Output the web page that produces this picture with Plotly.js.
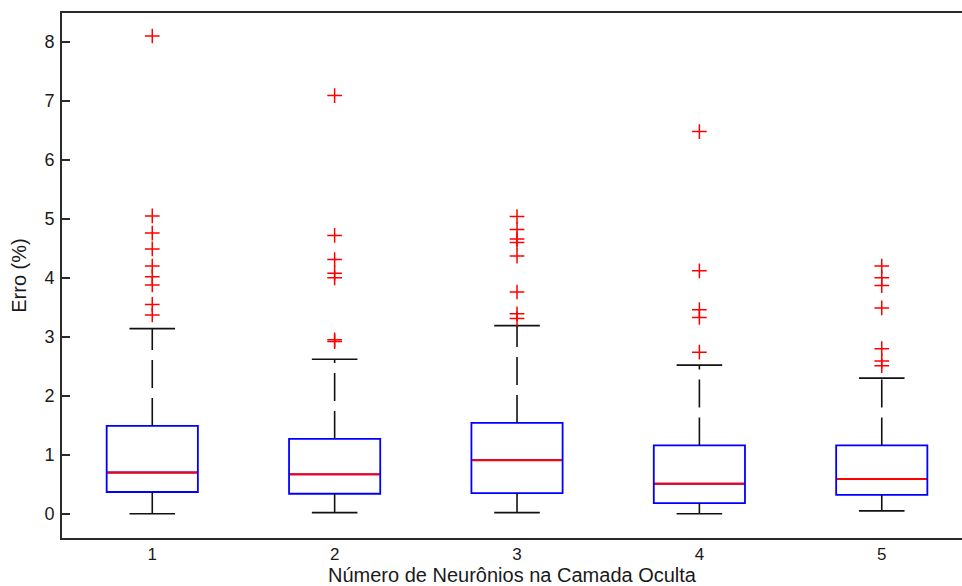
<!DOCTYPE html>
<html>
<head>
<meta charset="utf-8">
<script src="https://cdn.plot.ly/plotly-3.0.1.min.js"></script>
<style>html,body{margin:0;padding:0;background:#fff;}#chart{width:962px;height:586px;}</style>
</head>
<body>
<div id="chart"></div>
<script>
// Categories: number of neurons in the hidden layer
var categories = [1, 2, 3, 4, 5];
var tickLabels = ["1", "2", "3", "4", "5"];

// Box statistics (Erro %)
var q1Values     = [0.37, 0.34, 0.35, 0.18, 0.32];
var medianValues = [0.70, 0.67, 0.91, 0.51, 0.59];
var q3Values     = [1.49, 1.27, 1.54, 1.16, 1.16];
var lowerWhisker = [0.00, 0.02, 0.02, 0.00, 0.05];
var upperWhisker = [3.14, 2.62, 3.19, 2.52, 2.30];

// Outliers per category
var outliers1 = [8.10, 5.05, 4.76, 4.49, 4.20, 4.02, 3.88, 3.55, 3.37];
var outliers2 = [7.09, 4.72, 4.31, 4.08, 4.00, 2.95, 2.92];
var outliers3 = [5.04, 4.82, 4.66, 4.60, 4.37, 3.76, 3.39, 3.31];
var outliers4 = [6.48, 4.12, 3.46, 3.33, 2.74];
var outliers5 = [4.20, 4.00, 3.87, 3.49, 2.80, 2.59, 2.51];
var outlierSets = [outliers1, outliers2, outliers3, outliers4, outliers5];

var BOX_W = 0.5, CAP_W = 0.25;
var blue = "#0000ff", red = "#ff0000", black = "#111111";

var traces = [];

// Box bodies (whiskers collapsed onto the box; drawn separately below)
traces.push({
  type: "box",
  x: categories,
  q1: q1Values,
  median: medianValues,
  q3: q3Values,
  lowerfence: q1Values,
  upperfence: q3Values,
  width: BOX_W,
  whiskerwidth: 0,
  boxpoints: false,
  fillcolor: "rgba(0,0,0,0)",
  line: {color: blue, width: 1.8},
  hoverinfo: "skip",
  showlegend: false
});

// Whiskers (dashed, black) – one trace per segment so dashes start at the box
categories.forEach(function (c, i) {
  traces.push({
    type: "scatter", mode: "lines",
    x: [c, c], y: [q3Values[i], upperWhisker[i]],
    line: {color: black, width: 1.6, dash: "28px,10px"},
    hoverinfo: "skip", showlegend: false
  });
  traces.push({
    type: "scatter", mode: "lines",
    x: [c, c], y: [q1Values[i], lowerWhisker[i]],
    line: {color: black, width: 1.6, dash: "28px,10px"},
    hoverinfo: "skip", showlegend: false
  });
});

// Whisker caps
var capX = [], capY = [];
categories.forEach(function (c, i) {
  capX.push(c - CAP_W / 2, c + CAP_W / 2, null, c - CAP_W / 2, c + CAP_W / 2, null);
  capY.push(upperWhisker[i], upperWhisker[i], null, lowerWhisker[i], lowerWhisker[i], null);
});
traces.push({
  type: "scatter", mode: "lines", x: capX, y: capY,
  line: {color: black, width: 1.6}, hoverinfo: "skip", showlegend: false
});

// Medians (red)
var medX = [], medY = [];
categories.forEach(function (c, i) {
  medX.push(c - BOX_W / 2 + 0.005, c + BOX_W / 2 - 0.005, null);
  medY.push(medianValues[i], medianValues[i], null);
});
traces.push({
  type: "scatter", mode: "lines", x: medX, y: medY,
  line: {color: red, width: 2.0}, hoverinfo: "skip", showlegend: false
});

// Outliers (red +)
var outX = [], outY = [];
categories.forEach(function (c, i) {
  outlierSets[i].forEach(function (v) { outX.push(c); outY.push(v); });
});
traces.push({
  type: "scatter", mode: "markers", x: outX, y: outY,
  marker: {symbol: "cross-thin-open", size: 10.5, color: red, line: {color: red, width: 1.5}},
  hoverinfo: "y", showlegend: false
});

var fontFam = "Liberation Sans, Arial, sans-serif";
var layout = {
  width: 962, height: 586,
  margin: {l: 62, r: 0, t: 13, b: 48, pad: 0},
  paper_bgcolor: "#ffffff", plot_bgcolor: "#ffffff",
  font: {family: fontFam, size: 18, color: "#1a1a1a"},
  showlegend: false,
  xaxis: {
    range: [0.505, 5.44],
    tickmode: "array", tickvals: categories, ticktext: tickLabels,
    ticks: "", showgrid: false, zeroline: false,
    showline: true, linecolor: "#2a2a2a", linewidth: 1.6, mirror: true,
    tickfont: {family: fontFam, size: 17, color: "#1a1a1a"},
    title: {text: "Número de Neurônios na Camada Oculta", font: {family: fontFam, size: 20, color: "#1a1a1a"}, standoff: 5},
    automargin: false
  },
  yaxis: {
    range: [-0.41, 8.49],
    tickmode: "linear", tick0: 0, dtick: 1,
    ticks: "inside", ticklen: 8, tickwidth: 1.5, tickcolor: "#2a2a2a",
    showgrid: false, zeroline: false,
    showline: true, linecolor: "#2a2a2a", linewidth: 1.6, mirror: false,
    tickfont: {family: fontFam, size: 18, color: "#1a1a1a"},
    ticklabelstandoff: 2,
    title: {text: "Erro (%)", font: {family: fontFam, size: 20, color: "#1a1a1a"}, standoff: 13},
    automargin: false
  }
};

Plotly.newPlot("chart", traces, layout, {displayModeBar: false, staticPlot: false});
</script>
</body>
</html>
